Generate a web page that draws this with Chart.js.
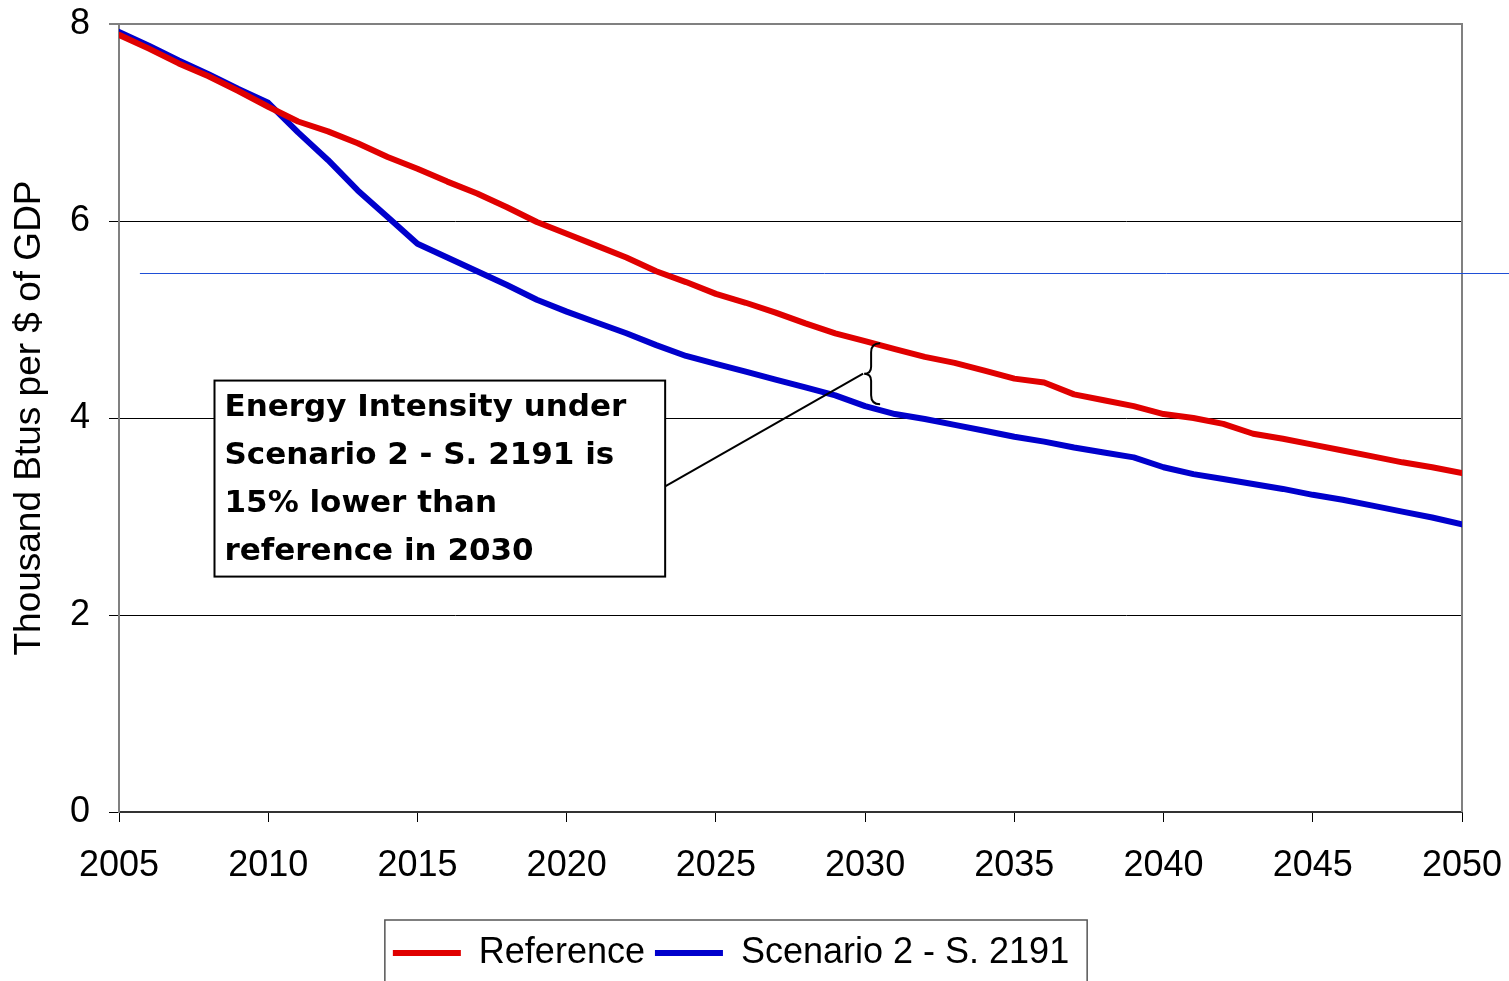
<!DOCTYPE html>
<html>
<head>
<meta charset="utf-8">
<script src="https://cdn.jsdelivr.net/npm/chart.js@4"></script>
<style>
  html, body { margin: 0; padding: 0; background: #fff; }
  #wrap { width: 1509px; height: 981px; }
</style>
</head>
<body>
<div id="wrap"><canvas id="grafico" width="1509" height="981"></canvas></div>
<script>
// --- datos ---
const years = [2005, 2006, 2007, 2008, 2009, 2010, 2011, 2012, 2013, 2014, 2015, 2016, 2017, 2018, 2019,
  2020, 2021, 2022, 2023, 2024, 2025, 2026, 2027, 2028, 2029, 2030, 2031, 2032, 2033, 2034, 2035,
  2036, 2037, 2038, 2039, 2040, 2041, 2042, 2043, 2044, 2045, 2046, 2047, 2048, 2049, 2050];

const referencia = [7.89, 7.75, 7.60, 7.47, 7.32, 7.16, 7.01, 6.91, 6.79, 6.65, 6.53, 6.40, 6.28, 6.14, 5.99,
  5.87, 5.75, 5.63, 5.49, 5.38, 5.26, 5.17, 5.07, 4.96, 4.86, 4.78, 4.70, 4.62, 4.56, 4.48, 4.40,
  4.36, 4.24, 4.18, 4.12, 4.04, 4.00, 3.94, 3.84, 3.79, 3.73, 3.67, 3.61, 3.55, 3.50, 3.44];

const escenario2 = [7.92, 7.78, 7.63, 7.49, 7.34, 7.20, 6.90, 6.62, 6.31, 6.04, 5.77, 5.63, 5.49, 5.35, 5.20,
  5.08, 4.97, 4.86, 4.74, 4.63, 4.55, 4.47, 4.39, 4.31, 4.23, 4.12, 4.04, 3.99, 3.93, 3.87, 3.81,
  3.76, 3.70, 3.65, 3.60, 3.50, 3.43, 3.38, 3.33, 3.28, 3.22, 3.17, 3.11, 3.05, 2.99, 2.92];

const yTicks = [0, 2, 4, 6, 8];
const xTicks = [2005, 2010, 2015, 2020, 2025, 2030, 2035, 2040, 2045, 2050];

const serieNames = ['Reference', 'Scenario 2 - S. 2191'];
const notaLineas = ['Energy Intensity under', 'Scenario 2 - S. 2191 is', '15% lower than', 'reference in 2030'];
const notaAnio = 2030;
const lineaSuelta = 5.47; // línea azul fina que cruza el gráfico

const colorRef = '#e00000';
const colorEsc = '#0000cc';

const fuente = "'Liberation Sans', Arial, sans-serif";

function puntos(vals) {
  return years.map((y, i) => ({ x: y, y: vals[i] }));
}

// --- plugin: bordes, línea suelta, recuadro de nota, llave, caja de leyenda ---
const extras = {
  id: 'extras',
  beforeDatasetsDraw(chart) {
    const { ctx, chartArea: a, scales } = chart;
    ctx.save();
    // borde derecho y superior
    ctx.strokeStyle = '#808080';
    ctx.lineWidth = 2;
    ctx.beginPath();
    ctx.moveTo(a.left, a.top);
    ctx.lineTo(a.right, a.top);
    ctx.lineTo(a.right, a.bottom);
    ctx.stroke();
    // línea azul fina
    const yl = Math.round(scales.y.getPixelForValue(lineaSuelta)) + 0.5;
    ctx.strokeStyle = '#1f4fd6';
    ctx.lineWidth = 1;
    ctx.beginPath();
    ctx.moveTo(scales.x.getPixelForValue(2005.7), yl);
    ctx.lineTo(chart.width, yl);
    ctx.stroke();
    ctx.restore();
  },
  afterDatasetsDraw(chart) {
    const { ctx, scales } = chart;
    const x = scales.x, y = scales.y;
    ctx.save();
    // llave en 2030
    const i = years.indexOf(notaAnio);
    const bx = x.getPixelForValue(notaAnio) + 6;
    const yTop = y.getPixelForValue(referencia[i]) + 2;
    const yBot = y.getPixelForValue(escenario2[i]) - 2;
    const yMid = (yTop + yBot) / 2;
    ctx.strokeStyle = '#000';
    ctx.lineWidth = 2;
    ctx.beginPath();
    ctx.moveTo(bx + 9, yTop);
    ctx.quadraticCurveTo(bx, yTop, bx, yTop + 9);
    ctx.lineTo(bx, yMid - 7);
    ctx.quadraticCurveTo(bx, yMid, bx - 7, yMid);
    ctx.quadraticCurveTo(bx, yMid, bx, yMid + 7);
    ctx.lineTo(bx, yBot - 9);
    ctx.quadraticCurveTo(bx, yBot, bx + 9, yBot);
    ctx.stroke();

    // recuadro de la nota
    const L = x.getPixelForValue(2008.2), R = x.getPixelForValue(2023.3);
    const T = y.getPixelForValue(4.38), B = y.getPixelForValue(2.39);
    // línea guía
    ctx.beginPath();
    ctx.moveTo(R, T + (B - T) * 0.54);
    ctx.lineTo(bx - 8, yMid);
    ctx.stroke();
    ctx.fillStyle = '#fff';
    ctx.fillRect(L, T, R - L, B - T);
    ctx.strokeRect(L, T, R - L, B - T);
    ctx.fillStyle = '#000';
    ctx.font = "bold 31px 'DejaVu Sans', Verdana, sans-serif";
    ctx.textBaseline = 'middle';
    ctx.textAlign = 'left';
    notaLineas.forEach((t, k) => ctx.fillText(t, L + 10, T + 27 + k * 48));

    // caja de la leyenda
    const lg = chart.legend;
    if (lg && lg.legendHitBoxes && lg.legendHitBoxes.length) {
      const hb = lg.legendHitBoxes;
      const l0 = hb[0].left - 8;
      const r0 = hb[hb.length - 1].left + hb[hb.length - 1].width + 18;
      ctx.strokeStyle = '#555';
      ctx.lineWidth = 1.5;
      ctx.strokeRect(l0, hb[0].top - 15, r0 - l0, 200);
    }
    ctx.restore();
  }
};

const ctx = document.getElementById('grafico').getContext('2d');
Chart.defaults.font.family = fuente;
Chart.defaults.color = '#000';

new Chart(ctx, {
  type: 'line',
  data: {
    datasets: [
      {
        label: serieNames[0],
        data: puntos(referencia),
        borderColor: colorRef,
        backgroundColor: colorRef,
        borderWidth: 6,
        borderCapStyle: 'round',
        borderJoinStyle: 'round',
        pointRadius: 0,
        tension: 0,
        pointStyle: 'line'
      },
      {
        label: serieNames[1],
        data: puntos(escenario2),
        borderColor: colorEsc,
        backgroundColor: colorEsc,
        borderWidth: 6,
        borderCapStyle: 'round',
        borderJoinStyle: 'round',
        pointRadius: 0,
        tension: 0,
        pointStyle: 'line'
      }
    ]
  },
  options: {
    responsive: false,
    animation: false,
    events: [],
    layout: { padding: { top: 24, right: 47, left: 0, bottom: 0 } },
    scales: {
      x: {
        type: 'linear',
        min: 2005,
        max: 2050,
        afterBuildTicks(s) { s.ticks = xTicks.map(v => ({ value: v })); },
        afterFit(s) { s.height = 113; s.paddingLeft = 0; s.paddingRight = 0; },
        ticks: {
          font: { size: 36 },
          color: '#000',
          padding: 22,
          maxRotation: 0,
          callback: v => String(v)
        },
        grid: {
          drawOnChartArea: false,
          drawTicks: true,
          tickLength: 10,
          color: '#000'
        },
        border: { color: '#333', width: 2 }
      },
      y: {
        min: 0,
        max: 8,
        afterBuildTicks(s) { s.ticks = yTicks.map(v => ({ value: v })); },
        afterFit(s) { s.width = 119; s.paddingTop = 0; s.paddingBottom = 0; },
        ticks: {
          font: { size: 36 },
          color: '#000',
          padding: 19
        },
        grid: {
          color: c => (c.tick && c.tick.value === 8 ? '#808080' : '#000'),
          lineWidth: c => (c.tick && c.tick.value === 8 ? 2 : 1),
          tickLength: 10,
          drawTicks: true
        },
        border: { color: '#808080', width: 2 },
        title: {
          display: true,
          text: 'Thousand Btus per $ of GDP',
          font: { size: 37 },
          color: '#000',
          padding: { top: 8, bottom: 4 }
        }
      }
    },
    plugins: {
      legend: {
        position: 'bottom',
        labels: {
          usePointStyle: true,
          pointStyle: 'line',
          pointStyleWidth: 68,
          font: { size: 36 },
          color: '#000',
          padding: 10,
          boxHeight: 36
        }
      },
      tooltip: { enabled: false }
    }
  },
  plugins: [extras]
});
</script>
</body>
</html>
